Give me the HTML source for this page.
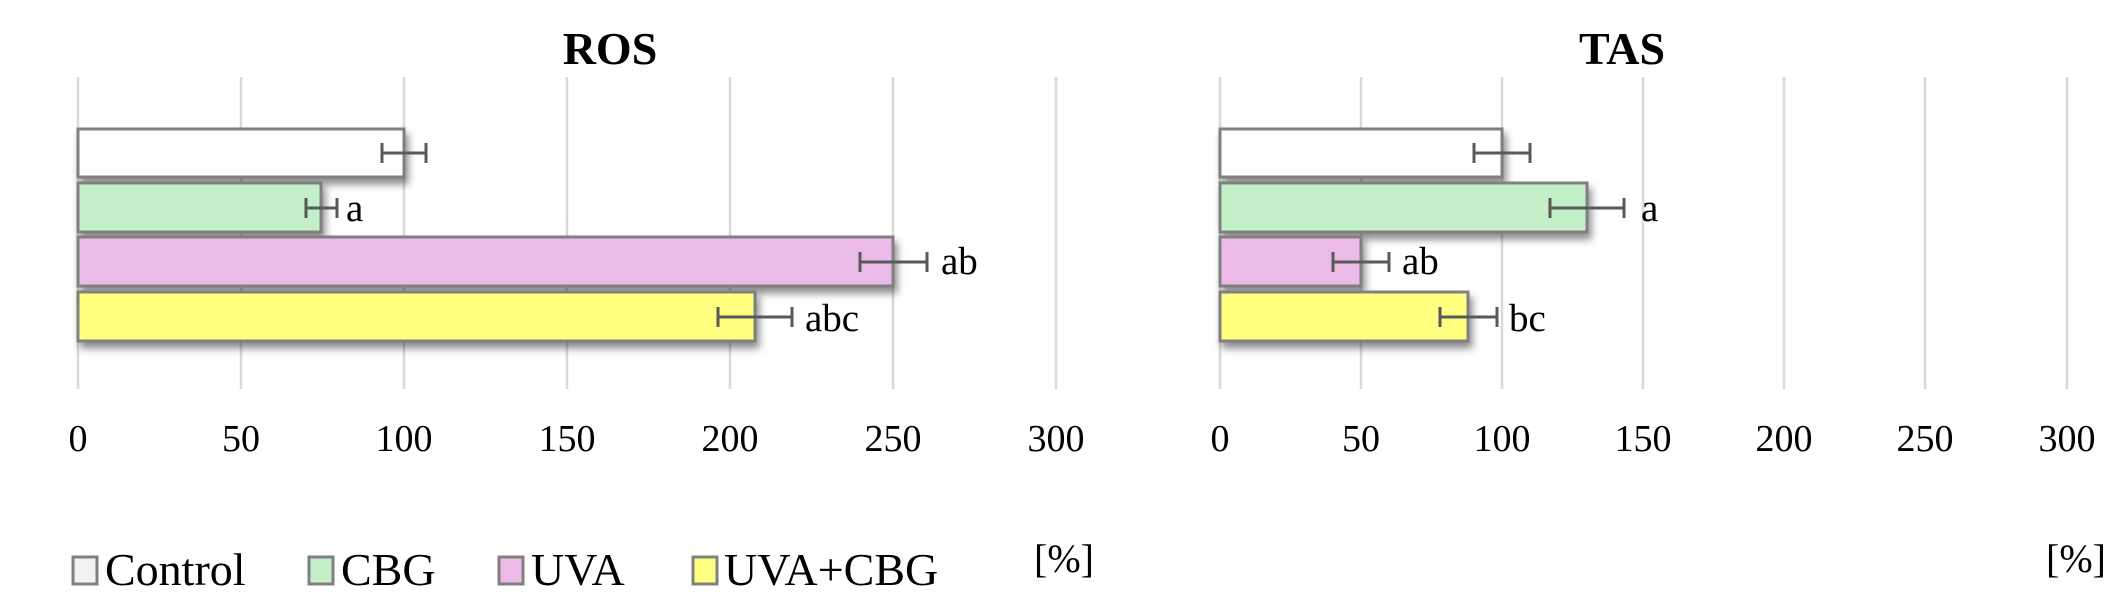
<!DOCTYPE html>
<html><head><meta charset="utf-8"><style>html,body{margin:0;padding:0;background:#fff}svg{display:block}</style></head>
<body>
<svg width="2126" height="607" viewBox="0 0 2126 607" xmlns="http://www.w3.org/2000/svg" font-family="'Liberation Serif', serif">
<defs><filter id="sh" x="-10%" y="-30%" width="130%" height="190%"><feDropShadow dx="3" dy="6" stdDeviation="4" flood-color="#000" flood-opacity="0.45"/></filter></defs>
<g stroke="#d9d9d9" stroke-width="2.5">
<line x1="78" y1="77" x2="78" y2="389"/><line x1="241" y1="77" x2="241" y2="389"/><line x1="404" y1="77" x2="404" y2="389"/><line x1="567" y1="77" x2="567" y2="389"/><line x1="730" y1="77" x2="730" y2="389"/><line x1="893" y1="77" x2="893" y2="389"/><line x1="1056" y1="77" x2="1056" y2="389"/>
<line x1="1220" y1="77" x2="1220" y2="389"/><line x1="1361" y1="77" x2="1361" y2="389"/><line x1="1502" y1="77" x2="1502" y2="389"/><line x1="1643" y1="77" x2="1643" y2="389"/><line x1="1784" y1="77" x2="1784" y2="389"/><line x1="1925" y1="77" x2="1925" y2="389"/><line x1="2067" y1="77" x2="2067" y2="389"/>
</g>
<text x="610" y="64" font-size="46" font-weight="bold" text-anchor="middle">ROS</text>
<text x="1622" y="64" font-size="46" font-weight="bold" text-anchor="middle">TAS</text>
<g stroke="#808080" stroke-width="3" filter="url(#sh)">
<rect x="78" y="129" width="326" height="48" fill="#fff"/>
<rect x="78" y="183" width="243" height="49" fill="#c3f0c8"/>
<rect x="78" y="237" width="815" height="49" fill="#ebbae6"/>
<rect x="78" y="292" width="677" height="49" fill="#ffff80"/>
<rect x="1220" y="129" width="282" height="48" fill="#fff"/>
<rect x="1220" y="183" width="367" height="49" fill="#c3f0c8"/>
<rect x="1220" y="237" width="141" height="49" fill="#ebbae6"/>
<rect x="1220" y="292" width="248" height="49" fill="#ffff80"/>
</g>
<g stroke="#595959" stroke-width="3" fill="none">
<path d="M382 153H426M382 143V163M426 143V163"/>
<path d="M306 208H337M306 198V218M337 198V218"/>
<path d="M860 262H927M860 252V272M927 252V272"/>
<path d="M718 317H792M718 307V327M792 307V327"/>
<path d="M1474 153H1530M1474 143V163M1530 143V163"/>
<path d="M1550 208H1624M1550 198V218M1624 198V218"/>
<path d="M1333 262H1389M1333 252V272M1389 252V272"/>
<path d="M1440 317H1497M1440 307V327M1497 307V327"/>
</g>
<g font-size="39">
<text x="346" y="221">a</text><text x="941" y="274">ab</text><text x="805" y="331">abc</text>
<text x="1641" y="221">a</text><text x="1402" y="274">ab</text><text x="1509" y="331">bc</text>
</g>
<g font-size="38" text-anchor="middle">
<text x="78" y="451">0</text><text x="241" y="451">50</text><text x="404" y="451">100</text><text x="567" y="451">150</text><text x="730" y="451">200</text><text x="893" y="451">250</text><text x="1056" y="451">300</text>
<text x="1220" y="451">0</text><text x="1361" y="451">50</text><text x="1502" y="451">100</text><text x="1643" y="451">150</text><text x="1784" y="451">200</text><text x="1925" y="451">250</text><text x="2067" y="451">300</text>
</g>
<g font-size="40">
<text x="1034" y="572">[%]</text><text x="2046" y="572">[%]</text>
</g>
<g stroke="#808080" stroke-width="3">
<rect x="73" y="557" width="24" height="27" fill="#f2f2f2"/>
<rect x="309" y="557" width="24" height="27" fill="#c3f0c8"/>
<rect x="499" y="557" width="24" height="27" fill="#ebbae6"/>
<rect x="693" y="557" width="24" height="27" fill="#ffff80"/>
</g>
<g font-size="46">
<text x="105" y="585">Control</text><text x="341" y="585">CBG</text><text x="531" y="585">UVA</text><text x="724" y="585">UVA+CBG</text>
</g>
</svg>
</body></html>
